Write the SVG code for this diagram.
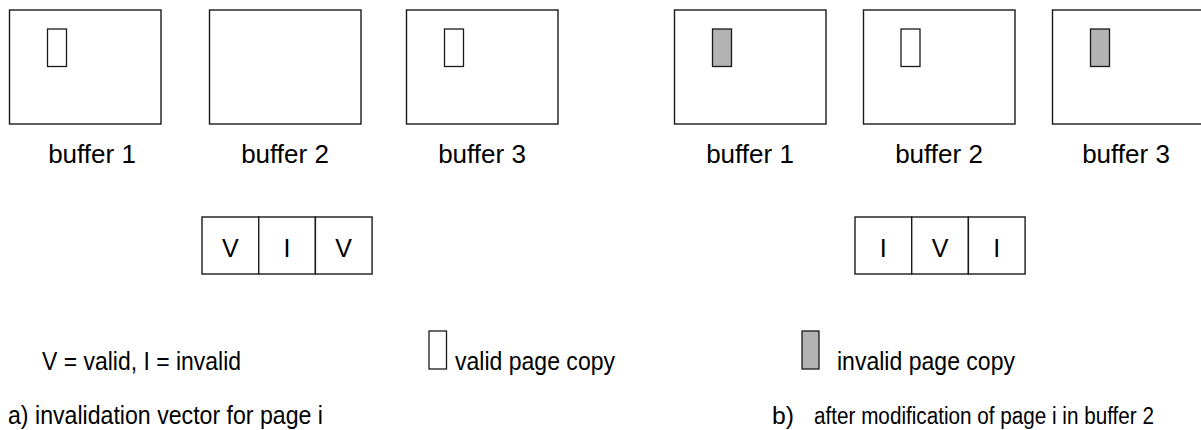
<svg xmlns="http://www.w3.org/2000/svg" width="1201" height="430" viewBox="0 0 1201 430">
  <style>
    .buf { fill: #ffffff; stroke: #1a1a1a; stroke-width: 1.4; }
    .page { stroke: #1a1a1a; stroke-width: 1.3; }
    .valid { fill: #ffffff; }
    .invalid { fill: #b3b3b3; }
    .cell { fill: #ffffff; stroke: #1a1a1a; stroke-width: 1.4; }
    text { font-family: "Liberation Sans", Arial, sans-serif; fill: #000000; }
    .lbl { font-size: 26px; text-anchor: middle; }
    .bit { font-size: 25px; text-anchor: middle; }
    .leg { font-size: 25px; }
    .cap { font-size: 23px; }
  </style>
  <rect width="1201" height="430" fill="#ffffff"/>

  <!-- (a) buffers before modification -->
  <g id="a-buffer1">
    <rect class="buf" x="9.5" y="10" width="151.5" height="114"/>
    <rect class="page valid" x="47.5" y="29" width="19" height="37.5"/>
    <text class="lbl" x="92" y="163">buffer 1</text>
  </g>
  <g id="a-buffer2">
    <rect class="buf" x="209.5" y="10" width="151.5" height="114"/>
    <text class="lbl" x="285" y="163">buffer 2</text>
  </g>
  <g id="a-buffer3">
    <rect class="buf" x="406.5" y="10" width="151.5" height="114"/>
    <rect class="page valid" x="444.5" y="29" width="19" height="37.5"/>
    <text class="lbl" x="482" y="163">buffer 3</text>
  </g>
  <g id="a-vector">
    <rect class="cell" x="202" y="217" width="56.7" height="57"/>
    <rect class="cell" x="258.7" y="217" width="56.7" height="57"/>
    <rect class="cell" x="315.4" y="217" width="56.7" height="57"/>
    <text class="bit" x="230.3" y="257">V</text>
    <text class="bit" x="287" y="257">I</text>
    <text class="bit" x="343.7" y="257">V</text>
  </g>

  <!-- (b) buffers after page i is modified in buffer 2 -->
  <g id="b-buffer1">
    <rect class="buf" x="674.5" y="10" width="151.5" height="114"/>
    <rect class="page invalid" x="712.5" y="29" width="19" height="37.5"/>
    <text class="lbl" x="750" y="163">buffer 1</text>
  </g>
  <g id="b-buffer2">
    <rect class="buf" x="863.5" y="10" width="151.5" height="114"/>
    <rect class="page valid" x="901" y="29" width="19" height="37.5"/>
    <text class="lbl" x="939" y="163">buffer 2</text>
  </g>
  <g id="b-buffer3">
    <rect class="buf" x="1052.5" y="10" width="151.5" height="114"/>
    <rect class="page invalid" x="1090.5" y="29" width="19" height="37.5"/>
    <text class="lbl" x="1126" y="163">buffer 3</text>
  </g>
  <g id="b-vector">
    <rect class="cell" x="855" y="217" width="56.7" height="57"/>
    <rect class="cell" x="911.7" y="217" width="56.7" height="57"/>
    <rect class="cell" x="968.4" y="217" width="56.7" height="57"/>
    <text class="bit" x="883.3" y="257">I</text>
    <text class="bit" x="940" y="257">V</text>
    <text class="bit" x="996.7" y="257">I</text>
  </g>

  <!-- legend -->
  <g id="legend">
    <text class="leg" x="42" y="370" textLength="199" lengthAdjust="spacingAndGlyphs">V = valid, I = invalid</text>
    <rect class="page valid" x="429" y="331" width="17.5" height="38"/>
    <text class="leg" x="455" y="370" textLength="160" lengthAdjust="spacingAndGlyphs">valid page copy</text>
    <rect class="page invalid" x="802" y="331" width="17" height="38"/>
    <text class="leg" x="837" y="370" textLength="178" lengthAdjust="spacingAndGlyphs">invalid page copy</text>
  </g>

  <!-- captions -->
  <g id="captions">
    <text class="leg" x="8" y="424" textLength="315" lengthAdjust="spacingAndGlyphs">a) invalidation vector for page i</text>
    <text class="cap" x="772" y="424" textLength="22" lengthAdjust="spacingAndGlyphs">b)</text>
    <text class="cap" x="814" y="424" textLength="340" lengthAdjust="spacingAndGlyphs">after modification of page i in buffer 2</text>
  </g>
</svg>
